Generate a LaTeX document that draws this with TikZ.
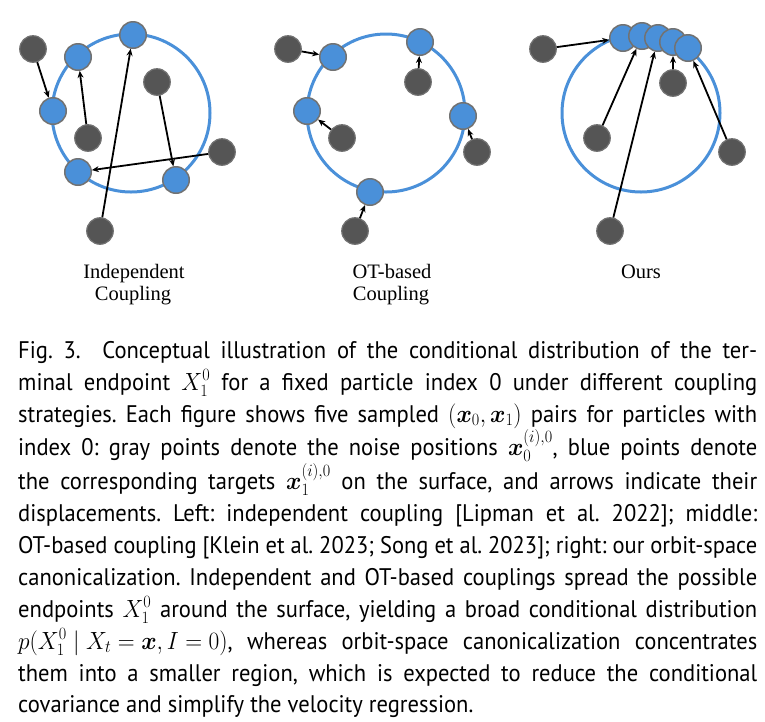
\documentclass[tikz,border=0pt]{standalone}
\usepackage{amsmath,bm}
\usepackage{fontspec}
\newfontfamily\labfont{Liberation Serif}
\newfontfamily\capfont{PT Sans}
\usetikzlibrary{arrows.meta}
\definecolor{dotblue}{HTML}{4A90D9}
\definecolor{dotgray}{HTML}{555555}
\definecolor{rimgray}{HTML}{727272}
\definecolor{ringblue}{HTML}{4A90D9}
\frenchspacing
\thickmuskip=5mu\relax
\medmuskip=4mu\relax
\newsavebox\cbox
\newlength\capw \setlength\capw{739pt}
\newcommand{\capline}[2]{\node[capl] at (18,#1) {\sbox\cbox{\scalebox{0.94}[1]{#2}}\ifdim\wd\cbox>\capw \resizebox{\capw}{\height}{\usebox\cbox}\else\scalebox{0.94}[1]{\makebox[786.2pt][s]{#2}}\fi};}
\begin{document}
\begin{tikzpicture}[x=1pt,y=-1pt,
  ring/.style={draw=ringblue, line width=3pt},
  gdot/.style={circle, fill=dotgray, draw=rimgray, line width=1.2pt, minimum size=26.5pt, inner sep=0pt},
  bdot/.style={circle, fill=dotblue, draw=rimgray, line width=1.5pt, minimum size=26.5pt, inner sep=0pt},
  mv/.style={draw=black, line width=1.8pt, -{Stealth[length=7pt,width=6pt]}},
  lab/.style={font=\labfont\fontsize{20.5}{24}\selectfont, anchor=base, inner sep=0pt},
  capl/.style={font=\capfont\fontsize{24}{28}\selectfont, anchor=base west, inner sep=0pt},
]
\useasboundingbox (0,0) rectangle (765,721);
% ---------- panel 1: independent coupling
\draw[ring] (131,113) circle[radius=79pt];
\node[bdot] (a1) at (53,111) {};
\node[bdot] (a2) at (78,57) {};
\node[bdot] (a3) at (133,35) {};
\node[bdot] (a4) at (176,180) {};
\node[bdot] (a5) at (78,172) {};
\node[gdot] (n1) at (33,49) {};
\node[gdot] (n2) at (88,138) {};
\node[gdot] (n3) at (100,231) {};
\node[gdot] (n4) at (157,82) {};
\node[gdot] (n5) at (222,152) {};
\draw[mv] (n1) -- (a1);
\draw[mv] (n2) -- (a2);
\draw[mv] (n3) -- (a3);
\draw[mv] (n4) -- (a4);
\draw[mv] (n5) -- (a5);
\node[lab] (l1a) at (134,278) {Independent};
\node[lab] (l1b) at (133,300) {Coupling};
% ---------- panel 2: OT-based coupling
\draw[ring] (386,113) circle[radius=79pt];
\node[bdot] (b1) at (333,57) {};
\node[bdot] (b2) at (420,42) {};
\node[bdot] (b3) at (307,111) {};
\node[bdot] (b4) at (463,116) {};
\node[bdot] (b5) at (370,192) {};
\node[gdot] (m1) at (288,49) {};
\node[gdot] (m2) at (418,82) {};
\node[gdot] (m3) at (342,138) {};
\node[gdot] (m4) at (477,152) {};
\node[gdot] (m5) at (355,231) {};
\draw[mv] (m1) -- (b1);
\draw[mv] (m2) -- (b2);
\draw[mv] (m3) -- (b3);
\draw[mv] (m4) -- (b4);
\draw[mv] (m5) -- (b5);
\node[lab] (l2a) at (392,278) {OT-based};
\node[lab] (l2b) at (391,300) {Coupling};
% ---------- panel 3: ours
\draw[ring] (641,113) circle[radius=79pt];
\node[bdot] (c1) at (623,38) {};
\node[bdot] (c2) at (642,36) {};
\node[bdot] (c3) at (658,38) {};
\node[bdot] (c4) at (673,42) {};
\node[bdot] (c5) at (688,48) {};
\node[gdot] (k1) at (543,49) {};
\node[gdot] (k2) at (597,138) {};
\node[gdot] (k3) at (610,231) {};
\node[gdot] (k4) at (673,83) {};
\node[gdot] (k5) at (732,152) {};
\draw[mv] (k1) -- (c1);
\draw[mv] (k2) -- (c2);
\draw[mv] (k3) -- (c3);
\draw[mv] (k4) -- (c4);
\draw[mv] (k5) -- (c5);
\node[lab] (l3) at (641,278) {Ours};
% ---------- caption
\capline{358}{Fig. 3.\ \ Conceptual illustration of the conditional distribution of the ter-}
\capline{390}{minal endpoint $X_1^0$ for a fixed particle index 0 under different coupling}
\capline{422}{strategies. Each figure shows five sampled $(\bm{x}_0,\bm{x}_1)$ pairs for particles with}
\capline{455}{index 0: gray points denote the noise positions $\bm{x}_0^{(i),0}$, blue points denote}
\capline{489}{the corresponding targets $\bm{x}_1^{(i),0}$ on the surface, and arrows indicate their}
\capline{521}{displacements. Left: independent coupling [Lipman et al. 2022]; middle:}
\capline{553}{OT-based coupling [Klein et al. 2023; Song et al. 2023]; right: our orbit-space}
\capline{585}{canonicalization. Independent and OT-based couplings spread the possible}
\capline{617}{endpoints $X_1^0$ around the surface, yielding a broad conditional distribution}
\capline{649}{$p(X_1^0 \mid X_t=\bm{x}, I=0)$, whereas orbit-space canonicalization concentrates}
\capline{681}{them into a smaller region, which is expected to reduce the conditional}
\node[capl] (cap12) at (18,712) {\scalebox{0.94}[1]{covariance and simplify the velocity regression.}};
\end{tikzpicture}
\end{document}
